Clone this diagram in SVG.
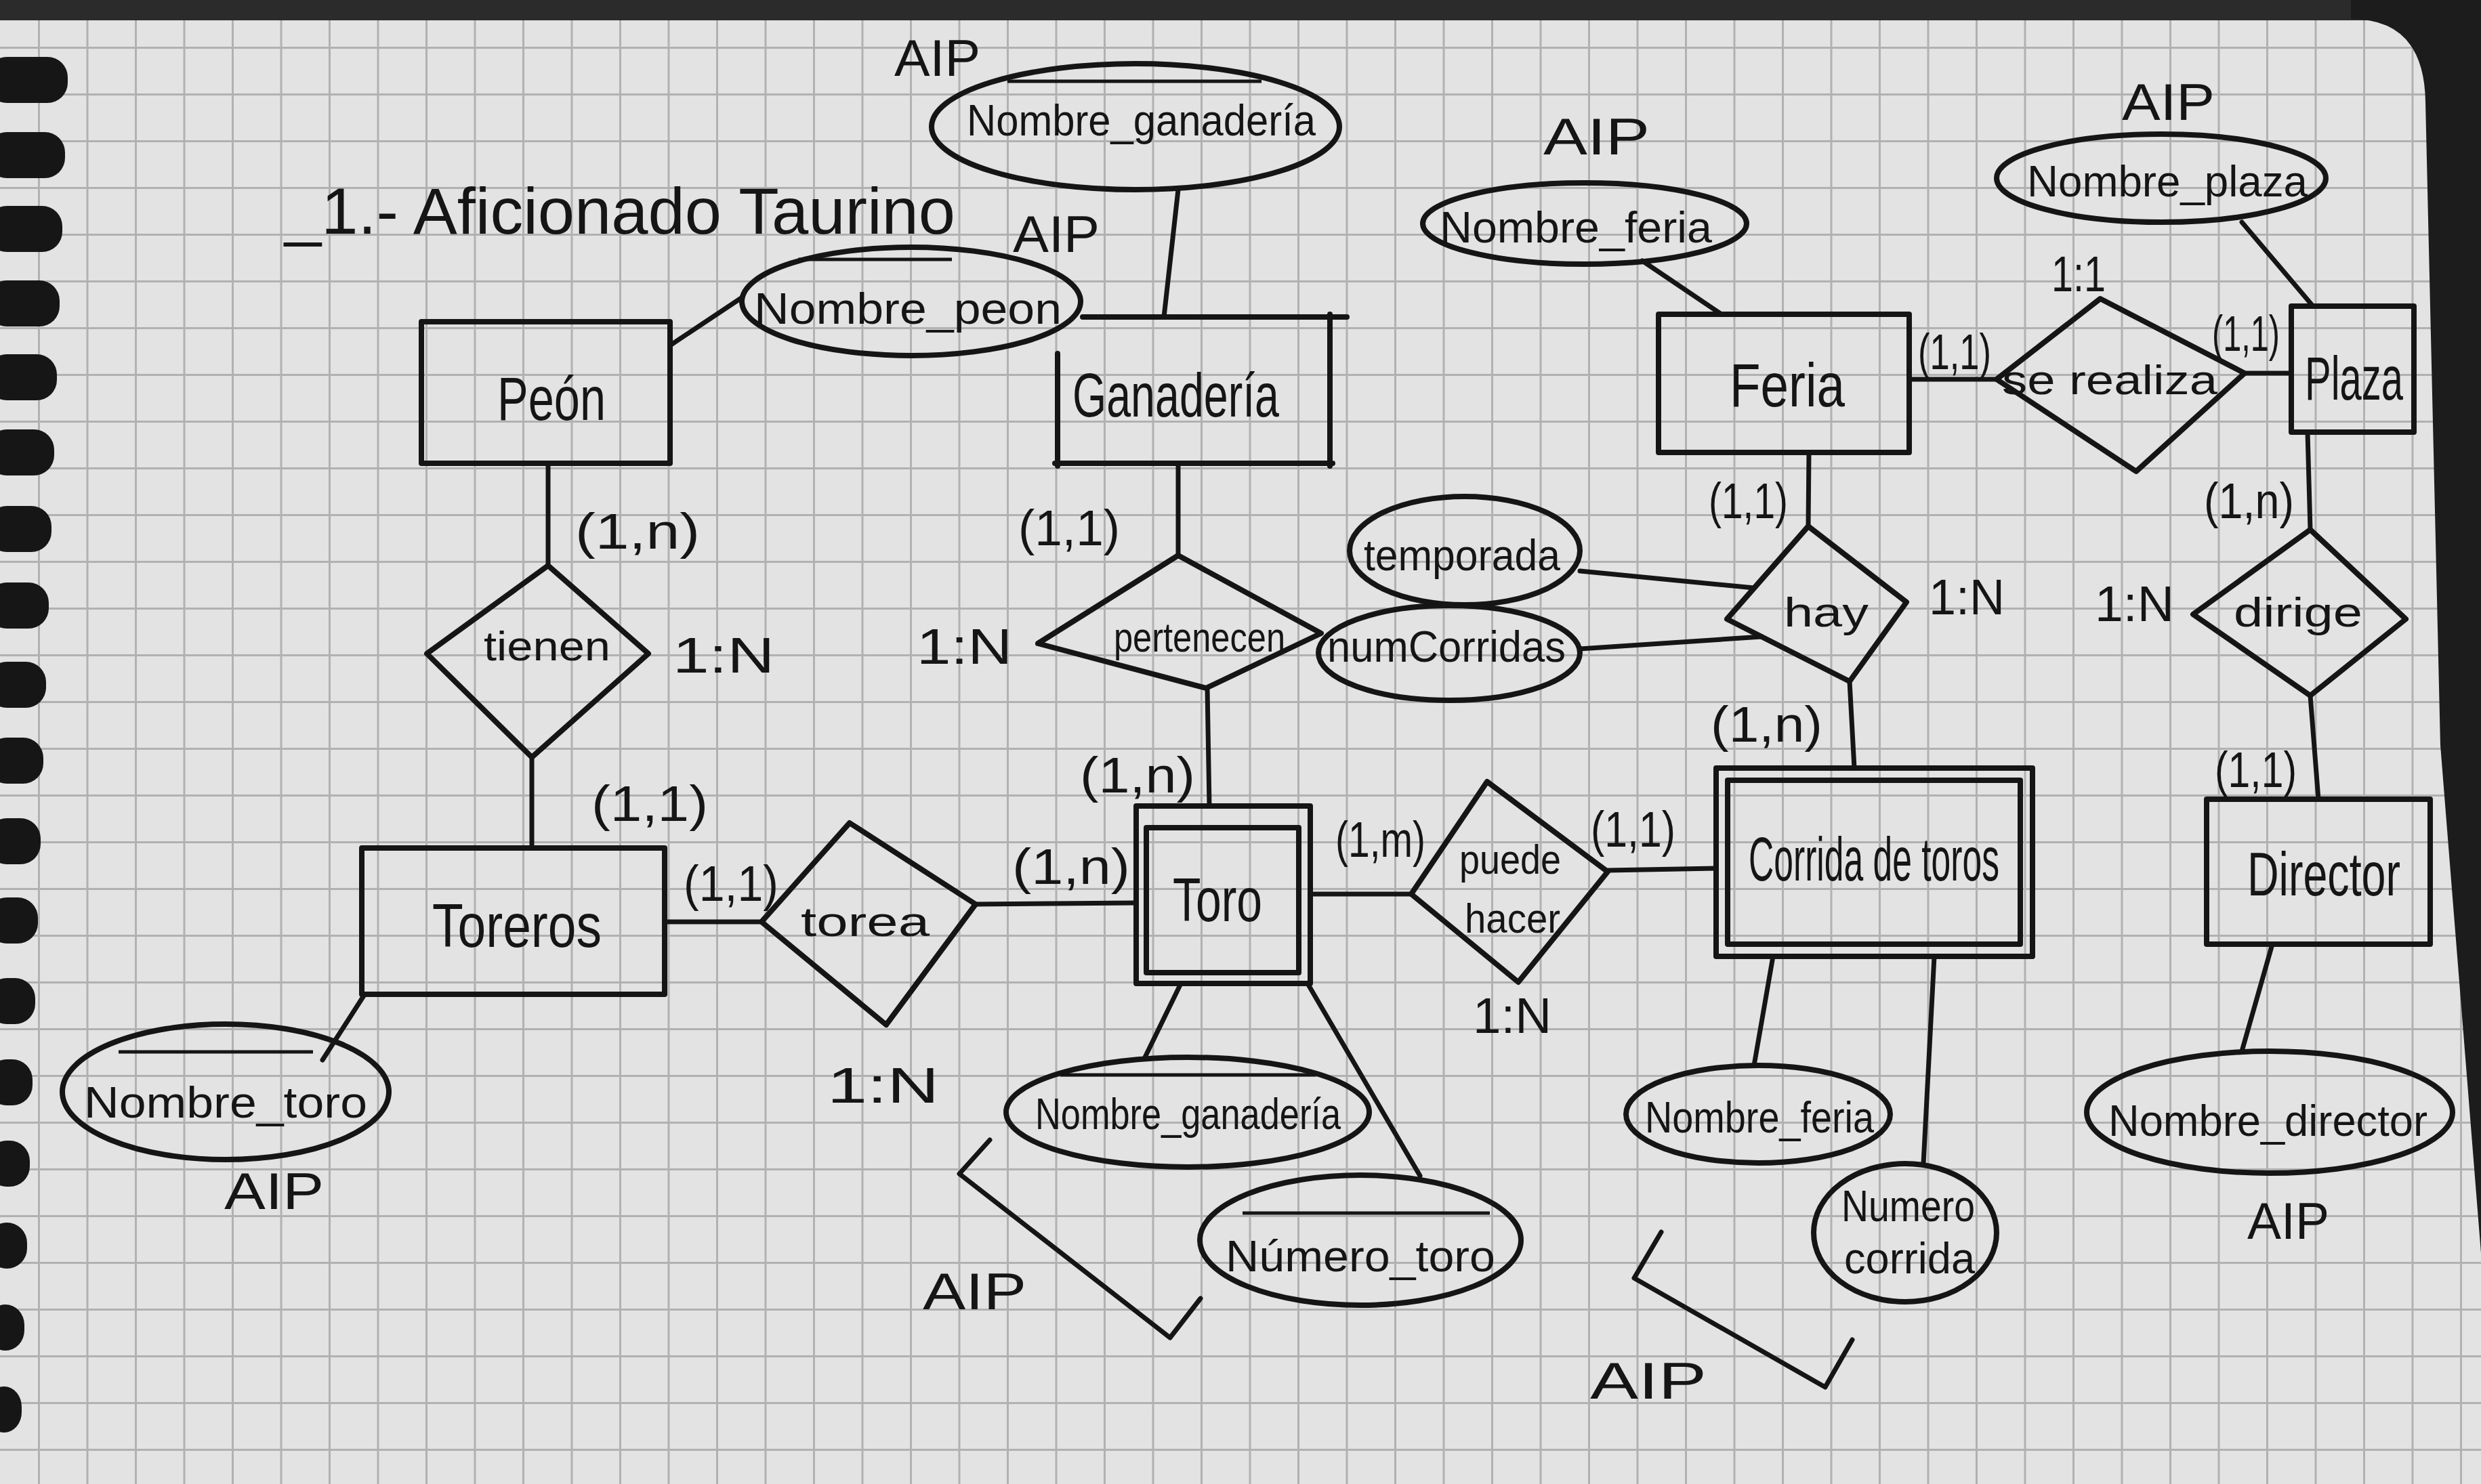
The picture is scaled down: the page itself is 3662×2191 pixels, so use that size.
<svg xmlns="http://www.w3.org/2000/svg" width="3662" height="2191" viewBox="0 0 3662 2191">
<defs>
<style>
.sh{stroke:#151515;stroke-width:8;fill:none;stroke-linejoin:round;stroke-linecap:round}
.ln{stroke:#151515;stroke-width:7;fill:none;stroke-linecap:round;stroke-linejoin:round}
.ol{stroke:#151515;stroke-width:5;fill:none}
text{font-family:"Liberation Sans","DejaVu Sans",Arial,sans-serif;fill:#151515}
.ent{font-size:90px}
.rel{font-size:62px}
.att{font-size:64px}
.card{font-size:74px}
.aip{font-size:76px}
.hole{fill:#161616}
</style>
<pattern id="grid" patternUnits="userSpaceOnUse" x="56" y="0" width="71.5" height="69">
<path d="M0,1.5 H71.5 M1.5,0 V69" stroke="#b1b1b1" stroke-width="3" fill="none"/>
</pattern>
</defs>

<g id="background">
<rect x="0" y="0" width="3662" height="2191" fill="#e3e3e3"/>
<rect x="0" y="0" width="3662" height="2191" fill="url(#grid)"/>
<rect x="0" y="0" width="3662" height="30" fill="#2b2b2b"/>
<path d="M3470,28 Q3578,28 3580,150 L3602,1100 L3662,1850 L3662,0 L3470,0 Z" fill="#1c1c1c"/>
<rect class="hole" x="-20" y="84" width="120" height="68" rx="30"/>
<rect class="hole" x="-20" y="195" width="116" height="68" rx="30"/>
<rect class="hole" x="-20" y="304" width="112" height="68" rx="30"/>
<rect class="hole" x="-20" y="414" width="108" height="68" rx="30"/>
<rect class="hole" x="-20" y="523" width="104" height="68" rx="30"/>
<rect class="hole" x="-20" y="634" width="100" height="68" rx="30"/>
<rect class="hole" x="-20" y="747" width="96" height="68" rx="30"/>
<rect class="hole" x="-20" y="860" width="92" height="68" rx="30"/>
<rect class="hole" x="-20" y="977" width="88" height="68" rx="30"/>
<rect class="hole" x="-20" y="1089" width="84" height="68" rx="30"/>
<rect class="hole" x="-20" y="1208" width="80" height="68" rx="30"/>
<rect class="hole" x="-20" y="1325" width="76" height="68" rx="30"/>
<rect class="hole" x="-20" y="1444" width="72" height="68" rx="30"/>
<rect class="hole" x="-20" y="1564" width="68" height="68" rx="30"/>
<rect class="hole" x="-20" y="1684" width="64" height="68" rx="30"/>
<rect class="hole" x="-20" y="1805" width="60" height="68" rx="30"/>
<rect class="hole" x="-20" y="1926" width="56" height="68" rx="30"/>
<rect class="hole" x="-20" y="2047" width="52" height="68" rx="30"/>
</g>

<g id="title">
<text x="420" y="345" font-size="96" textLength="990" lengthAdjust="spacingAndGlyphs">_1.- Aficionado Taurino</text>
</g>

<g id="connectors">
<line class="ln" x1="989" y1="510" x2="1094" y2="440"/>
<line class="ln" x1="809" y1="684" x2="809" y2="835"/>
<line class="ln" x1="785" y1="1118" x2="785" y2="1252"/>
<line class="ln" x1="981" y1="1361" x2="1124" y2="1361"/>
<line class="ln" x1="1440" y1="1335" x2="1677" y2="1333"/>
<line class="ln" x1="1739" y1="684" x2="1739" y2="820"/>
<line class="ln" x1="1782" y1="1016" x2="1785" y2="1190"/>
<line class="ln" x1="1739" y1="280" x2="1718" y2="468"/>
<line class="ln" x1="537" y1="1470" x2="476" y2="1565"/>
<line class="ln" x1="1743" y1="1452" x2="1689" y2="1563"/>
<line class="ln" x1="1930" y1="1452" x2="2096" y2="1736"/>
<line class="ln" x1="1934" y1="1320" x2="2083" y2="1320"/>
<line class="ln" x1="2373" y1="1285" x2="2533" y2="1282"/>
<line class="ln" x1="2332" y1="843" x2="2589" y2="868"/>
<line class="ln" x1="2332" y1="958" x2="2600" y2="940"/>
<line class="ln" x1="2670" y1="668" x2="2669" y2="777"/>
<line class="ln" x1="2730" y1="1006" x2="2737" y2="1134"/>
<line class="ln" x1="2424" y1="385" x2="2541" y2="464"/>
<line class="ln" x1="2818" y1="560" x2="2947" y2="560"/>
<line class="ln" x1="3313" y1="551" x2="3382" y2="551"/>
<line class="ln" x1="3309" y1="328" x2="3414" y2="452"/>
<line class="ln" x1="3406" y1="638" x2="3410" y2="782"/>
<line class="ln" x1="3410" y1="1027" x2="3422" y2="1180"/>
<line class="ln" x1="3354" y1="1394" x2="3309" y2="1552"/>
<line class="ln" x1="2617" y1="1412" x2="2589" y2="1573"/>
<line class="ln" x1="2855" y1="1412" x2="2839" y2="1718"/>
</g>

<g id="entity-peon">
<rect class="sh" x="622" y="475" width="367" height="209"/>
<text class="ent" x="734" y="620" font-size="100" textLength="160" lengthAdjust="spacingAndGlyphs">Peón</text>
</g>
<g id="attr-nombre-peon">
<ellipse class="sh" cx="1345" cy="445" rx="250" ry="80"/>
<line class="ol" x1="1178" y1="383" x2="1405" y2="383"/>
<text class="att" x="1113" y="478" font-size="64" textLength="454" lengthAdjust="spacingAndGlyphs">Nombre_peon</text>
</g>

<g id="entity-ganaderia">
<path class="sh" d="M1598,468 H1988 M1963,464 V688 M1557,684 H1967 M1561,522 V688"/>
<text class="ent" x="1583" y="615" textLength="305" lengthAdjust="spacingAndGlyphs">Ganadería</text>
</g>
<g id="attr-nombre-ganaderia-top">
<ellipse class="sh" cx="1676" cy="187" rx="301" ry="93"/>
<line class="ol" x1="1487" y1="120" x2="1862" y2="120"/>
<text class="att" x="1427" y="200" font-size="72" textLength="515" lengthAdjust="spacingAndGlyphs">Nombre_ganadería</text>
<text class="aip" x="1320" y="112" font-size="72" textLength="127" lengthAdjust="spacingAndGlyphs">AIP</text>
<text class="aip" x="1495" y="372" font-size="68" textLength="128" lengthAdjust="spacingAndGlyphs">AIP</text>
</g>

<g id="rel-tienen">
<polygon class="sh" points="809,835 957,965 785,1118 630,965"/>
<text class="rel" x="714" y="975" textLength="187" lengthAdjust="spacingAndGlyphs">tienen</text>
</g>

<g id="entity-toreros">
<rect class="sh" x="534" y="1252" width="447" height="216"/>
<text class="ent" x="638" y="1398" textLength="250" lengthAdjust="spacingAndGlyphs">Toreros</text>
</g>
<g id="attr-nombre-toro">
<ellipse class="sh" cx="333" cy="1612" rx="241" ry="100"/>
<line class="ol" x1="175" y1="1553" x2="462" y2="1553"/>
<text class="att" x="124" y="1650" textLength="418" lengthAdjust="spacingAndGlyphs">Nombre_toro</text>
<text class="aip" x="331" y="1785" font-size="72" textLength="147" lengthAdjust="spacingAndGlyphs">AIP</text>
</g>

<g id="rel-torea">
<polygon class="sh" points="1124,1361 1254,1215 1440,1335 1308,1513"/>
<text class="rel" x="1182" y="1382" font-size="66" textLength="190" lengthAdjust="spacingAndGlyphs">torea</text>
</g>

<g id="entity-toro">
<rect class="sh" x="1677" y="1190" width="257" height="262"/>
<rect class="sh" x="1692" y="1222" width="225" height="214"/>
<text class="ent" x="1731" y="1360" font-size="82" textLength="132" lengthAdjust="spacingAndGlyphs">Toro</text>
</g>

<g id="rel-pertenecen">
<polygon class="sh" points="1739,820 1950,935 1780,1016 1532,950"/>
<text class="rel" x="1644" y="962" font-size="58" textLength="253" lengthAdjust="spacingAndGlyphs">pertenecen</text>
</g>

<g id="attr-nombre-ganaderia-bottom">
<ellipse class="sh" cx="1753" cy="1642" rx="268" ry="81"/>
<line class="ol" x1="1565" y1="1587" x2="1942" y2="1587"/>
<text class="att" x="1528" y="1667" font-size="64" textLength="451" lengthAdjust="spacingAndGlyphs">Nombre_ganadería</text>
</g>
<g id="attr-numero-toro">
<ellipse class="sh" cx="2008" cy="1831" rx="237" ry="96"/>
<line class="ol" x1="1834" y1="1791" x2="2199" y2="1791"/>
<text class="att" x="1809" y="1877" textLength="398" lengthAdjust="spacingAndGlyphs">Número_toro</text>
</g>
<g id="aip-toro">
<polyline class="ln" points="1461,1683 1416,1733 1727,1975 1772,1917"/>
<text class="aip" x="1362" y="1933" font-size="82" textLength="153" lengthAdjust="spacingAndGlyphs">AIP</text>
</g>

<g id="rel-puede-hacer">
<polygon class="sh" points="2195,1154 2373,1287 2241,1450 2083,1320"/>
<text class="rel" x="2154" y="1290" font-size="56" textLength="150" lengthAdjust="spacingAndGlyphs">puede</text>
<text class="rel" x="2162" y="1377" font-size="56" textLength="141" lengthAdjust="spacingAndGlyphs">hacer</text>
</g>

<g id="attr-temporada">
<ellipse class="sh" cx="2162" cy="813" rx="170" ry="80"/>
<text class="att" x="2013" y="842" font-size="58" textLength="290" lengthAdjust="spacingAndGlyphs">temporada</text>
</g>
<g id="attr-numcorridas">
<ellipse class="sh" cx="2139" cy="964" rx="193" ry="70"/>
<text class="att" x="1959" y="977" font-size="62" textLength="352" lengthAdjust="spacingAndGlyphs">numCorridas</text>
</g>

<g id="rel-hay">
<polygon class="sh" points="2669,777 2814,889 2730,1006 2549,914"/>
<text class="rel" x="2633" y="925" font-size="76" textLength="125" lengthAdjust="spacingAndGlyphs">hay</text>
</g>

<g id="entity-feria">
<rect class="sh" x="2448" y="464" width="370" height="204"/>
<text class="ent" x="2553" y="600" font-size="96" textLength="170" lengthAdjust="spacingAndGlyphs">Feria</text>
</g>
<g id="attr-nombre-feria-top">
<ellipse class="sh" cx="2339" cy="330" rx="239" ry="60"/>
<text class="att" x="2125" y="358" font-size="62" textLength="402" lengthAdjust="spacingAndGlyphs">Nombre_feria</text>
<text class="aip" x="2278" y="228" textLength="157" lengthAdjust="spacingAndGlyphs">AIP</text>
</g>

<g id="rel-se-realiza">
<polygon class="sh" points="3100,441 3313,551 3153,696 2947,560"/>
<text class="rel" x="2955" y="582" textLength="318" lengthAdjust="spacingAndGlyphs">se realiza</text>
</g>

<g id="entity-plaza">
<rect class="sh" x="3382" y="452" width="181" height="186"/>
<text class="ent" x="3402" y="590" textLength="145" lengthAdjust="spacingAndGlyphs">Plaza</text>
</g>
<g id="attr-nombre-plaza">
<ellipse class="sh" cx="3190" cy="263" rx="243" ry="65"/>
<text class="att" x="2992" y="290" font-size="60" textLength="414" lengthAdjust="spacingAndGlyphs">Nombre_plaza</text>
<text class="aip" x="3132" y="177" font-size="68" textLength="137" lengthAdjust="spacingAndGlyphs">AIP</text>
</g>

<g id="rel-dirige">
<polygon class="sh" points="3410,782 3551,914 3410,1027 3237,907"/>
<text class="rel" x="3297" y="925" font-size="70" textLength="190" lengthAdjust="spacingAndGlyphs">dirige</text>
</g>

<g id="entity-director">
<rect class="sh" x="3257" y="1180" width="330" height="214"/>
<text class="ent" x="3317" y="1322" font-size="80" textLength="226" lengthAdjust="spacingAndGlyphs">Director</text>
</g>
<g id="attr-nombre-director">
<ellipse class="sh" cx="3350" cy="1642" rx="270" ry="90"/>
<text class="att" x="3112" y="1677" font-size="68" textLength="471" lengthAdjust="spacingAndGlyphs">Nombre_director</text>
<text class="aip" x="3317" y="1829" font-size="70" textLength="121" lengthAdjust="spacingAndGlyphs">AIP</text>
</g>

<g id="entity-corrida-de-toros">
<rect class="sh" x="2533" y="1134" width="467" height="278"/>
<rect class="sh" x="2550" y="1152" width="432" height="242"/>
<text class="ent" x="2581" y="1300" font-size="74" textLength="370" lengthAdjust="spacingAndGlyphs">Corrida de toros</text>
</g>
<g id="attr-nombre-feria-bottom">
<ellipse class="sh" cx="2595" cy="1645" rx="195" ry="72"/>
<text class="att" x="2428" y="1672" font-size="60" textLength="338" lengthAdjust="spacingAndGlyphs">Nombre_feria</text>
</g>
<g id="attr-numero-corrida">
<ellipse class="sh" cx="2812" cy="1820" rx="135" ry="102"/>
<text class="att" x="2718" y="1803" font-size="54" textLength="197" lengthAdjust="spacingAndGlyphs">Numero</text>
<text class="att" x="2722" y="1880" font-size="54" textLength="193" lengthAdjust="spacingAndGlyphs">corrida</text>
</g>
<g id="aip-corrida">
<polyline class="ln" points="2452,1819 2412,1887 2694,2048 2734,1978"/>
<text class="aip" x="2347" y="2065" font-size="82" textLength="172" lengthAdjust="spacingAndGlyphs">AIP</text>
</g>

<g id="cardinalities">
<text class="card" x="849" y="810" textLength="184" lengthAdjust="spacingAndGlyphs">(1,n)</text>
<text class="card" x="993" y="993" font-size="72" textLength="150" lengthAdjust="spacingAndGlyphs">1:N</text>
<text class="card" x="873" y="1212" font-size="80" textLength="172" lengthAdjust="spacingAndGlyphs">(1,1)</text>
<text class="card" x="1009" y="1330" textLength="140" lengthAdjust="spacingAndGlyphs">(1,1)</text>
<text class="card" x="1221" y="1628" textLength="165" lengthAdjust="spacingAndGlyphs">1:N</text>
<text class="card" x="1494" y="1305" font-size="70" textLength="174" lengthAdjust="spacingAndGlyphs">(1,n)</text>
<text class="card" x="1594" y="1170" textLength="170" lengthAdjust="spacingAndGlyphs">(1,n)</text>
<text class="card" x="1353" y="980" font-size="60" textLength="141" lengthAdjust="spacingAndGlyphs">1:N</text>
<text class="card" x="1503" y="805" font-size="70" textLength="150" lengthAdjust="spacingAndGlyphs">(1,1)</text>
<text class="card" x="1971" y="1265" font-size="78" textLength="133" lengthAdjust="spacingAndGlyphs">(1,m)</text>
<text class="card" x="2348" y="1250" font-size="76" textLength="125" lengthAdjust="spacingAndGlyphs">(1,1)</text>
<text class="card" x="2174" y="1525" font-size="55" textLength="116" lengthAdjust="spacingAndGlyphs">1:N</text>
<text class="card" x="2522" y="765" font-size="72" textLength="117" lengthAdjust="spacingAndGlyphs">(1,1)</text>
<text class="card" x="2847" y="907" font-size="58" textLength="112" lengthAdjust="spacingAndGlyphs">1:N</text>
<text class="card" x="2525" y="1095" font-size="80" textLength="165" lengthAdjust="spacingAndGlyphs">(1,n)</text>
<text class="card" x="2831" y="545" textLength="108" lengthAdjust="spacingAndGlyphs">(1,1)</text>
<text class="card" x="3028" y="430" font-size="55" textLength="80" lengthAdjust="spacingAndGlyphs">1:1</text>
<text class="card" x="3265" y="518" font-size="78" textLength="100" lengthAdjust="spacingAndGlyphs">(1,1)</text>
<text class="card" x="3253" y="765" font-size="70" textLength="133" lengthAdjust="spacingAndGlyphs">(1,n)</text>
<text class="card" x="3092" y="917" font-size="60" textLength="117" lengthAdjust="spacingAndGlyphs">1:N</text>
<text class="card" x="3269" y="1162" font-size="78" textLength="121" lengthAdjust="spacingAndGlyphs">(1,1)</text>
</g>
</svg>
